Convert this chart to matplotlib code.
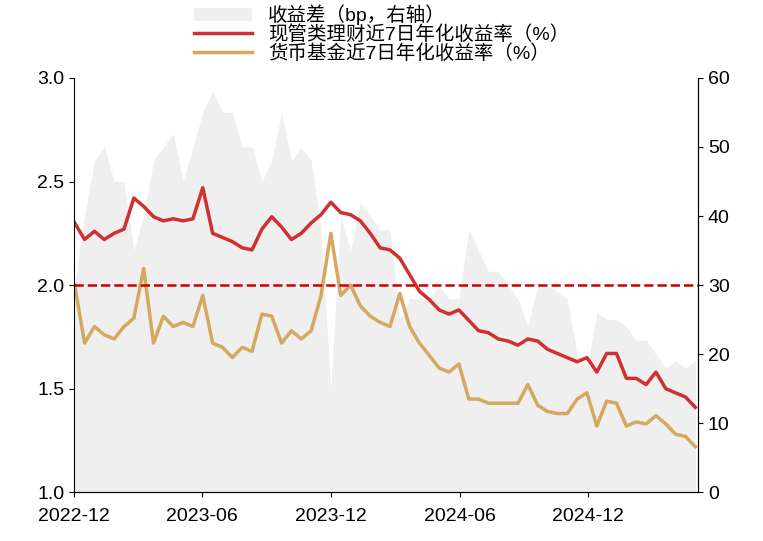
import matplotlib
matplotlib.use("Agg")
import matplotlib.pyplot as plt
import matplotlib.dates as mdates
import pandas as pd

plt.rcParams["font.family"] = ["Liberation Sans", "Noto Sans CJK SC"]
plt.rcParams["axes.unicode_minus"] = False

dates = pd.date_range("2022-12-02", periods=64, freq="14D")

wealth = [2.30, 2.22, 2.26, 2.22, 2.25, 2.27, 2.42, 2.38, 2.33, 2.31,
          2.32, 2.31, 2.32, 2.47, 2.25, 2.23, 2.21, 2.18, 2.17, 2.27,
          2.33, 2.28, 2.22, 2.25, 2.30, 2.34, 2.40, 2.35, 2.34, 2.31,
          2.25, 2.18, 2.17, 2.13, 2.05, 1.97, 1.93, 1.88, 1.86, 1.88,
          1.83, 1.78, 1.77, 1.74, 1.73, 1.71, 1.74, 1.73, 1.69, 1.67,
          1.65, 1.63, 1.65, 1.58, 1.67, 1.67, 1.55, 1.55, 1.52, 1.58,
          1.50, 1.48, 1.46, 1.41]

mmf = [2.00, 1.72, 1.80, 1.76, 1.74, 1.80, 1.84, 2.08, 1.72, 1.85,
       1.80, 1.82, 1.80, 1.95, 1.72, 1.70, 1.65, 1.70, 1.68, 1.86,
       1.85, 1.72, 1.78, 1.74, 1.78, 1.95, 2.25, 1.95, 2.00, 1.90,
       1.85, 1.82, 1.80, 1.96, 1.80, 1.72, 1.66, 1.60, 1.58, 1.62,
       1.45, 1.45, 1.43, 1.43, 1.43, 1.43, 1.52, 1.42, 1.39, 1.38,
       1.38, 1.45, 1.48, 1.32, 1.44, 1.43, 1.32, 1.34, 1.33, 1.37,
       1.33, 1.28, 1.27, 1.22]

spread = [30, 40, 48, 50, 45, 45, 35, 40, 48, 50,
          52, 45, 50, 55, 58, 55, 55, 50, 50, 45,
          48, 55, 48, 50, 48, 38, 15, 40, 35, 42,
          40, 38, 38, 25, 28, 28, 28, 30, 28, 28,
          38, 35, 32, 32, 30, 28, 24, 30, 30, 29,
          28, 20, 18, 26, 25, 25, 24, 22, 22, 20,
          18, 19, 18, 19]

fig = plt.figure(figsize=(7.63, 5.41), dpi=100)
ax = fig.add_axes([0.097, 0.09, 0.818, 0.766])
ax2 = ax.twinx()
ax.set_zorder(ax2.get_zorder() + 1)
ax.patch.set_visible(False)

area = ax2.fill_between(dates, spread, 0, color="#efefef", lw=0, label="收益差（bp，右轴）")
ax2.set_ylim(0, 60)

l1, = ax.plot(dates, wealth, color="#d03030", lw=2.5, label="现管类理财近7日年化收益率（%）")
l2, = ax.plot(dates, mmf, color="#d4a860", lw=2.5, label="货币基金近7日年化收益率（%）")
ax.axhline(2.0, color="#cc0000", ls="--", lw=1.8)
ax.set_ylim(1.0, 3.0)
ax.set_yticks([1.0, 1.5, 2.0, 2.5, 3.0])
ax.set_xlim(pd.Timestamp("2022-12-01"), dates[-1] + pd.Timedelta(days=4))
ax.xaxis.set_major_locator(mdates.MonthLocator(bymonth=[6, 12]))
ax.xaxis.set_major_formatter(mdates.DateFormatter("%Y-%m"))
ax.tick_params(axis="x", pad=8)

for a in (ax, ax2):
    a.tick_params(labelsize=14)
    a.spines["top"].set_visible(False)
ax2.spines["left"].set_visible(False)

fig.legend([area, l1, l2], [area.get_label(), l1.get_label(), l2.get_label()],
           loc="upper center", bbox_to_anchor=(0.5, 0.995), frameon=False,
           fontsize=14, handlelength=3, labelspacing=0.0, borderaxespad=0,
           borderpad=0.1)

fig.savefig("out.png", dpi=100)
